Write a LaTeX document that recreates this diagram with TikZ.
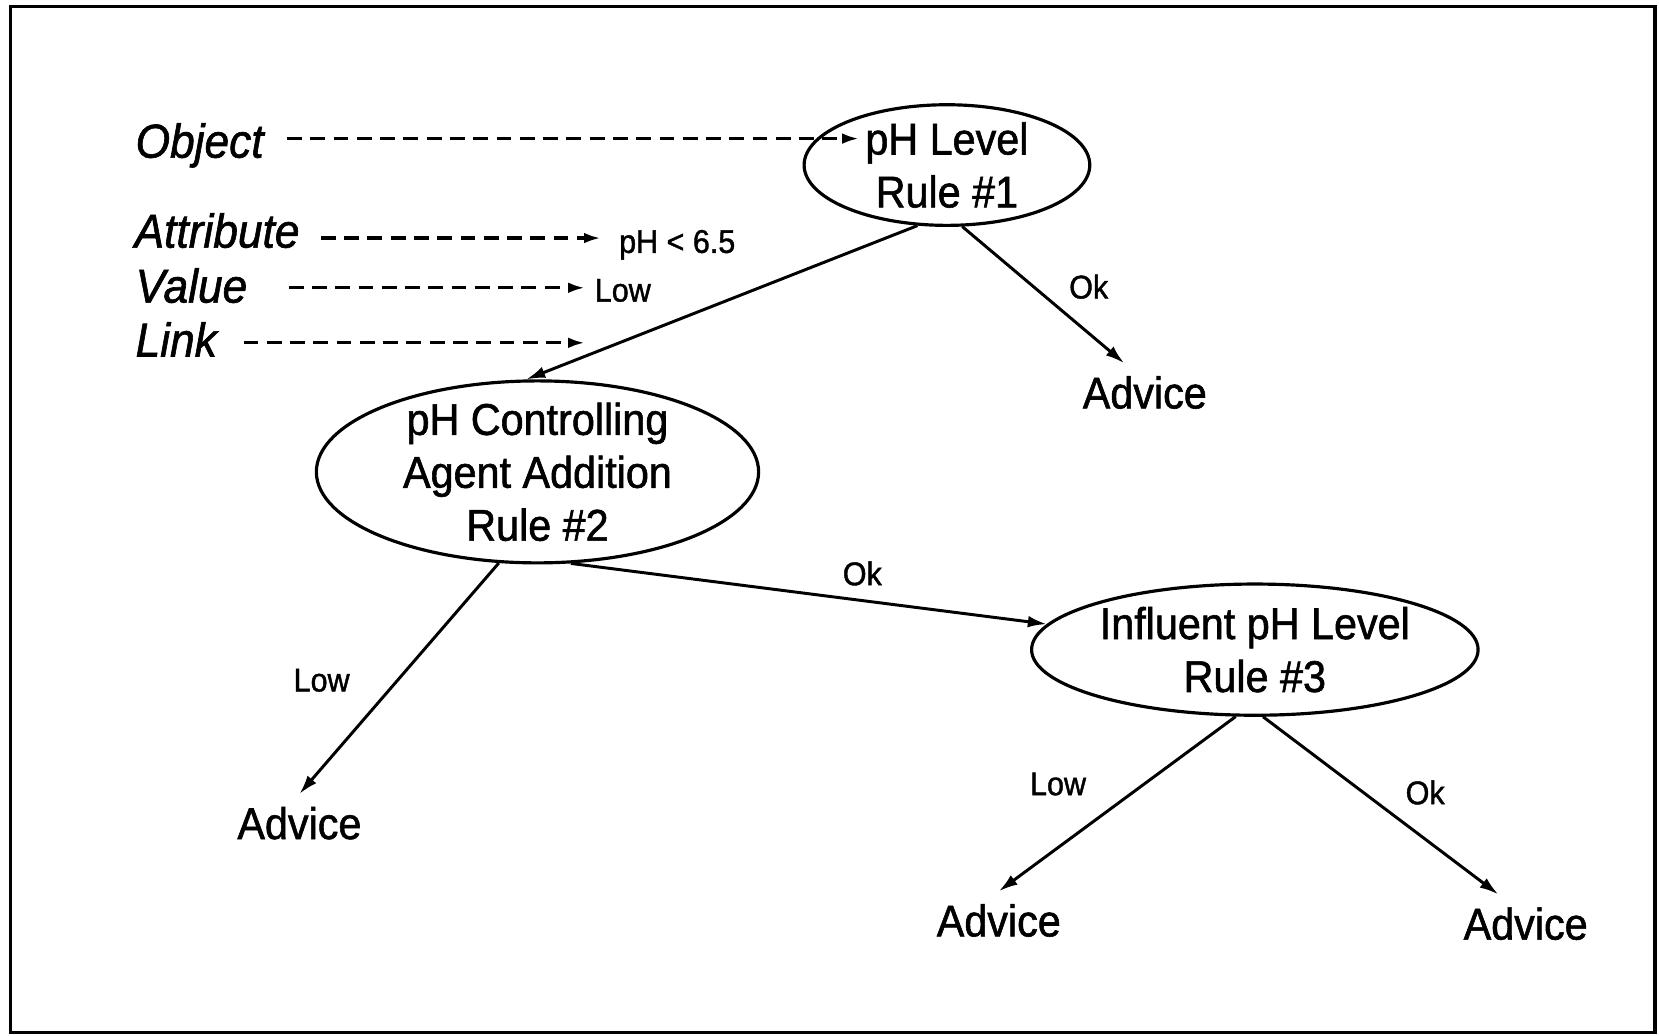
\documentclass[tikz,border=0pt]{standalone}
\usepackage{fontspec}
\usetikzlibrary{shapes.geometric,arrows.meta,calc}
\newfontfamily\hv[FakeStretch=0.93,FakeBold=1.3]{Liberation Sans}
\begin{document}
\begin{tikzpicture}[x=1pt,y=-1pt,
  rule/.style={ellipse,draw,line width=3pt,inner sep=0pt},
  ruletext/.style={font=\hv\fontsize{42}{50}\selectfont,align=center,inner sep=0pt},
  advice/.style={font=\hv\fontsize{42}{50}\selectfont,inner xsep=3pt,inner ysep=12pt},
  tag/.style={font=\hv\fontsize{31}{36}\selectfont,inner sep=2pt},
  role/.style={font=\hv\itshape\fontsize{45}{50}\selectfont,inner sep=0pt,anchor=base west},
  link/.style={line width=2.8pt,-{Latex[length=18pt,width=11pt]}},
  guide/.style={line width=3.2pt,dash pattern=on 14pt off 8pt,-{Latex[length=16pt,width=10pt]}}]

\useasboundingbox (0,0) rectangle (1568,979);
\draw[line width=3.4pt] (10,6) rectangle (1564,976);

% rule nodes
\node[rule,minimum width=270pt,minimum height=114pt] (r1) at (895,156) {};
\node[ruletext] (r1t) at (r1) {pH Level\\Rule \#1};
\node[rule,minimum width=418pt,minimum height=172pt] (r2) at (508,446) {};
\node[ruletext] (r2t) at (r2) {pH Controlling\\Agent Addition\\Rule \#2};
\node[rule,minimum width=422pt,minimum height=124pt] (r3) at (1186,614) {};
\node[ruletext] (r3t) at (r3) {Influent pH Level\\Rule \#3};

% advice leaves
\node[advice] (a1) at (1082,371) {Advice};
\node[advice] (a2) at (283,778) {Advice};
\node[advice] (a3) at (944,870) {Advice};
\node[advice] (a4) at (1442,873) {Advice};

% links between rules
\draw[link] (r1.244) -- (r2.97);
\draw[link] (r1.284) -- (a1.125);
\draw[link] (r2.247) -- (a2.north);
\draw[link] (r2.290) -- (r3.173);
\draw[link] (r3.254) -- (a3.north);
\draw[link] (r3.277) -- (a4.133);

% link labels
\node[tag] (okA) at (1029,271) {Ok};
\node[tag] (okB) at (815,542) {Ok};
\node[tag] (okC) at (1347,749) {Ok};
\node[tag] (lowA) at (304,643) {Low};
\node[tag] (lowB) at (1000,741) {Low};

% legend of the rule structure
\node[role] (obj) at (128,149) {Object};
\node[role] (att) at (127,234) {Attribute};
\node[role] (val) at (128,286) {Value};
\node[role] (lnk) at (128,337) {Link};

\node[tag,anchor=base west,inner sep=0pt] (attv) at (585,239) {pH < 6.5};
\node[tag,anchor=base west,inner sep=0pt] (valv) at (562,285) {Low};

\coordinate (objend) at (812,131);
\coordinate (attend) at (568,225);
\coordinate (valend) at (553,272);
\coordinate (lnkend) at (553,324);

\draw[guide] (obj.east |- objend) ++(22,0) -- (objend);
\draw[guide] (att.east |- attend) ++(20,0) -- (attend);
\draw[guide] (val.east |- valend) ++(39,0) -- (valend);
\draw[guide] (lnk.east |- lnkend) ++(25,0) -- (lnkend);
\end{tikzpicture}
\end{document}
